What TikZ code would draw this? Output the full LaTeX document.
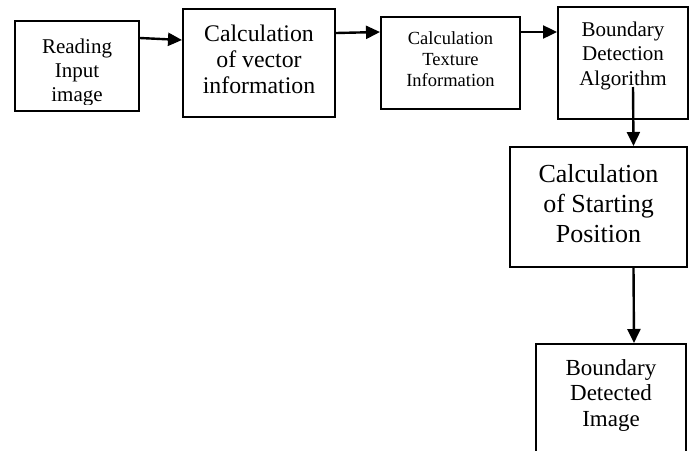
\documentclass[tikz,border=0pt]{standalone}
\usepackage{fontspec}
\setmainfont{Liberation Serif}
\usetikzlibrary{arrows.meta}

\newcommand{\fsz}[2]{\fontsize{#1}{#2}\selectfont}

\tikzset{
  blk/.style={draw, line width=2pt, inner sep=0pt},
  lbl/.style={align=center, inner sep=0pt, anchor=base},
  arr/.style={line width=2.4pt, -{Triangle[length=14pt,width=13pt]}}
}

\begin{document}
\begin{tikzpicture}[x=1pt,y=1pt]
\useasboundingbox (0,0) rectangle (693,-450);
\clip (0,0) rectangle (693,-450);

% boxes
\node[blk, minimum width=124pt, minimum height=90pt]  (read)   at (77,-66)    {};
\node[blk, minimum width=152pt, minimum height=108pt] (vect)   at (259,-63)   {};
\node[blk, minimum width=139pt, minimum height=92pt]  (textr)  at (450.5,-63) {};
\node[blk, minimum width=130pt, minimum height=112pt] (algo)   at (623,-63)   {};
\node[blk, minimum width=177pt, minimum height=120pt] (start)  at (598.5,-207) {};
\node[blk, minimum width=150pt, minimum height=112pt] (result) at (611,-400)  {};

% texts (anchored at the baseline of the last line)
\begin{scope}
\clip ([yshift=8pt]read.south west) rectangle (read.north east);
\node[lbl, font=\fsz{21}{24}] (read-t) at ([yshift=-81pt]read.north) {Reading\\Input\\image};
\end{scope}
\node[lbl, font=\fsz{23.8}{26}] (vect-t)   at ([yshift=-85pt]vect.north)   {Calculation\\of vector\\information};
\node[lbl, font=\fsz{18.5}{21}] (textr-t)  at ([yshift=-70pt]textr.north)  {Calculation\\Texture\\Information};
\node[lbl, font=\fsz{21}{24.5}] (algo-t)   at ([yshift=-79pt]algo.north)   {Boundary\\Detection\\Algorithm};
\node[lbl, font=\fsz{26}{30}]   (start-t)  at ([yshift=-96pt]start.north)  {Calculation\\of Starting\\Position};
\node[lbl, font=\fsz{23}{25.5}] (result-t) at ([yshift=-83pt]result.north) {Boundary\\Detected\\Image};

% arrows
\draw[arr] ([yshift=28pt]read.east) -- ([yshift=23pt]vect.west);
\draw[arr] ([yshift=30pt]vect.east) -- ([yshift=31pt]textr.west);
\draw[arr] ([yshift=31pt]textr.east) -- ([yshift=31pt]algo.west);
\draw[arr] ([shift={(10pt,-24pt)}]algo.center) -- ([xshift=35pt]start.north);
\draw[arr] ([xshift=35pt]start.south) -- ([xshift=23pt]result.north);

\end{tikzpicture}
\end{document}
